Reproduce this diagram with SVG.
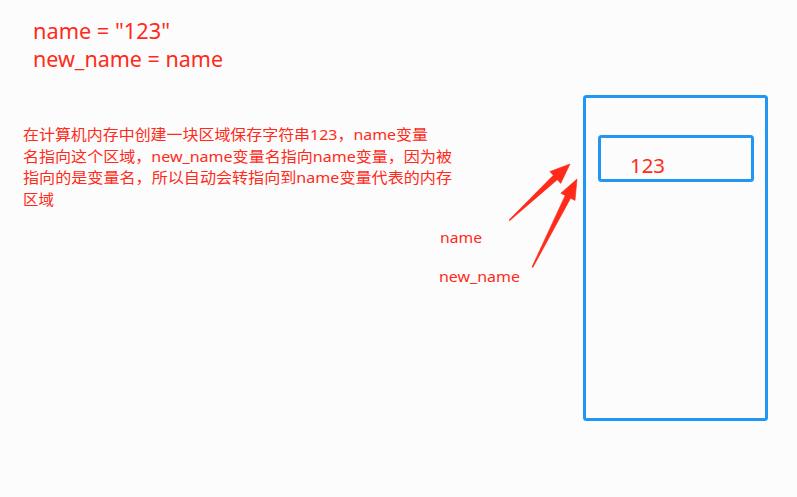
<svg xmlns="http://www.w3.org/2000/svg" width="797" height="497" viewBox="0 0 797 497">
<style>
.t{fill:#ff2a1a;font-family:"Noto Sans","Noto Sans CJK SC",sans-serif}
.box{fill:none;stroke:#2196f3;stroke-width:3}
.arr{fill:#ff2a1a;stroke:#ff2a1a;stroke-width:0.6;stroke-linejoin:round}
</style>
<rect width="797" height="497" fill="#fcfcfc"/>
<g id="code">
<text class="t" x="33" y="39" font-size="21" textLength="137" lengthAdjust="spacingAndGlyphs">name = "123"</text>
<text class="t" x="33" y="67" font-size="21" textLength="190" lengthAdjust="spacingAndGlyphs">new_name = name</text>
</g>
<g id="desc" font-size="15">
<text class="t" x="23" y="140" textLength="405" lengthAdjust="spacingAndGlyphs">在计算机内存中创建一块区域保存字符串123，name变量</text>
<text class="t" x="23" y="162" textLength="429" lengthAdjust="spacingAndGlyphs">名指向这个区域，new_name变量名指向name变量，因为被</text>
<text class="t" x="23" y="183" textLength="429" lengthAdjust="spacingAndGlyphs">指向的是变量名，所以自动会转指向到name变量代表的内存</text>
<text class="t" x="23" y="205" textLength="31" lengthAdjust="spacingAndGlyphs">区域</text>
</g>
<g id="memory">
<rect class="box" x="584.5" y="96.5" width="182" height="323" rx="2"/>
</g>
<g id="value">
<rect class="box" x="599.5" y="136.5" width="153" height="44" rx="2"/>
<text class="t" x="630" y="173" font-size="20" textLength="35" lengthAdjust="spacingAndGlyphs">123</text>
</g>
<g id="label-name">
<text class="t" x="440" y="243" font-size="15" textLength="42" lengthAdjust="spacingAndGlyphs">name</text>
</g>
<g id="label-new_name">
<text class="t" x="439" y="282" font-size="15" textLength="81" lengthAdjust="spacingAndGlyphs">new_name</text>
</g>
<g id="connectors">
<polygon class="arr" points="509,220 509.6,220.7 557.3,179.7 560.7,183.4 570,164 549.9,171.6 553.3,175.3"/>
<polygon class="arr" points="532,267 532.9,267.4 570.6,198.2 575,200.4 577,179 560.8,193.2 565.2,195.4"/>
</g>
</svg>
